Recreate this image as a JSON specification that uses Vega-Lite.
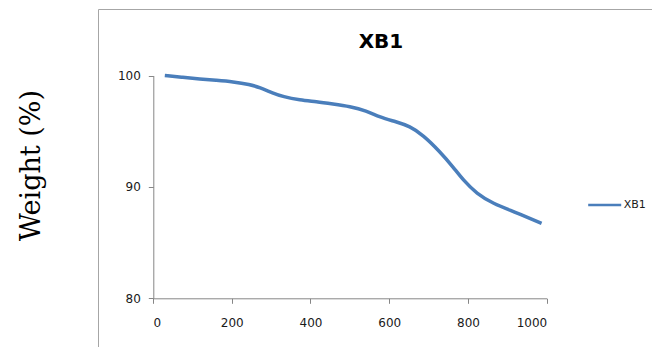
{
  "$schema": "https://vega.github.io/schema/vega-lite/v6.json",
  "width": 560,
  "height": 345,
  "autosize": {"type": "none"},
  "padding": {"left": 98, "top": 9, "right": 0, "bottom": 0},
  "background": "white",
  "title": {
    "text": "XB1",
    "font": "DejaVu Sans",
    "fontSize": 20,
    "fontWeight": "bold",
    "color": "#000000",
    "anchor": "middle",
    "frame": "group",
    "baseline": "alphabetic",
    "offset": 0,
    "dx": 3,
    "dy": 59
  },
  "config": {
    "view": {"stroke": "#a6a6a6", "strokeWidth": 1}
  },
  "data": {
    "values": [
      {"temp": 30, "weight": 100.0},
      {"temp": 76, "weight": 99.84},
      {"temp": 119, "weight": 99.69},
      {"temp": 161, "weight": 99.57},
      {"temp": 203, "weight": 99.44},
      {"temp": 246, "weight": 99.2},
      {"temp": 271, "weight": 98.92},
      {"temp": 305, "weight": 98.42},
      {"temp": 330, "weight": 98.1},
      {"temp": 373, "weight": 97.8},
      {"temp": 415, "weight": 97.65},
      {"temp": 457, "weight": 97.44},
      {"temp": 500, "weight": 97.22},
      {"temp": 542, "weight": 96.84},
      {"temp": 576, "weight": 96.25},
      {"temp": 618, "weight": 95.85},
      {"temp": 652, "weight": 95.45},
      {"temp": 686, "weight": 94.66},
      {"temp": 729, "weight": 93.16},
      {"temp": 762, "weight": 91.8},
      {"temp": 788, "weight": 90.6},
      {"temp": 822, "weight": 89.4},
      {"temp": 864, "weight": 88.5},
      {"temp": 915, "weight": 87.8},
      {"temp": 987, "weight": 86.73}
    ]
  },
  "mark": {"type": "line", "strokeWidth": 3.5, "interpolate": "basis"},
  "encoding": {
    "x": {
      "field": "temp",
      "type": "quantitative",
      "scale": {"domain": [0, 1000], "range": [55, 448.7], "nice": false, "zero": false},
      "axis": {
        "values": [0, 200, 400, 600, 800, 1000],
        "format": "d",
        "offset": -55.7,
        "grid": false,
        "domainColor": "#868686",
        "tickColor": "#868686",
        "tickSize": 5,
        "labelPadding": 14,
        "labelFont": "DejaVu Sans",
        "labelFontSize": 12,
        "labelColor": "#1a1a1a",
        "title": null
      }
    },
    "y": {
      "field": "weight",
      "type": "quantitative",
      "scale": {"domain": [80, 100], "range": [289.3, 66.5], "nice": false, "zero": false},
      "axis": {
        "values": [80, 90, 100],
        "offset": -55.3,
        "grid": false,
        "domainColor": "#868686",
        "tickColor": "#868686",
        "tickSize": 5,
        "labelPadding": 8,
        "labelFont": "DejaVu Sans",
        "labelFontSize": 12,
        "labelColor": "#1a1a1a",
        "title": "Weight (%)",
        "titleFont": "DejaVu Serif",
        "titleFontSize": 27,
        "titleFontWeight": "normal",
        "titleColor": "#000000",
        "titleAngle": -90,
        "titleAlign": "center",
        "titleBaseline": "middle",
        "titleX": -122,
        "titleY": 156
      }
    },
    "color": {
      "datum": "XB1",
      "scale": {"range": ["#4a7ebb"]},
      "legend": {
        "title": null,
        "orient": "none",
        "legendX": 488.7,
        "legendY": 178,
        "symbolType": "stroke",
        "symbolSize": 1089,
        "symbolStrokeWidth": 2.5,
        "labelFont": "DejaVu Sans",
        "labelFontSize": 11,
        "labelColor": "#1a1a1a",
        "labelOffset": 1,
        "padding": 0
      }
    }
  }
}
